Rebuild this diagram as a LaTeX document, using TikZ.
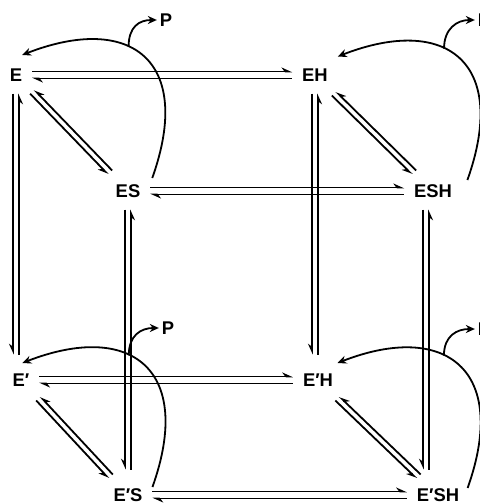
\documentclass[tikz,border=0pt]{standalone}
\usepackage{fontspec}
\setmainfont{Liberation Sans}
\usetikzlibrary{arrows.meta,calc}

\begin{document}
\begin{tikzpicture}[x=0.5pt, y=-0.5pt, line width=0.9pt,
    sp/.style={inner sep=0pt, outer xsep=5pt, outer ysep=6pt,
      text height=6.5pt, text depth=0pt, font=\fontsize{9.2}{11}\selectfont\bfseries},
    prod/.style={inner sep=0pt, outer sep=1.5pt, font=\fontsize{9.2}{11}\selectfont\bfseries},
    fwdh/.style={-{Stealth[left, length=4.5pt, width=4pt]}, transform canvas={yshift=1.75pt}},
    bwdh/.style={{Stealth[left, length=4.5pt, width=4pt]}-, transform canvas={yshift=-1.75pt}},
    fwdv/.style={-{Stealth[right, length=4.5pt, width=4pt]}, shorten >=3.5pt, transform canvas={xshift=-1.5pt}},
    bwdv/.style={{Stealth[right, length=4.5pt, width=4pt]}-, shorten >=3.5pt, transform canvas={xshift=1.5pt}},
    fwdd/.style={-{Stealth[right, length=4.5pt, width=4pt]}, transform canvas={shift={(-1pt,-1pt)}}},
    bwdd/.style={{Stealth[right, length=4.5pt, width=4pt]}-, transform canvas={shift={(1pt,1pt)}}},
    curv/.style={-{Stealth[length=4.5pt, width=4pt]}}]

    % Frame
    \path[use as bounding box] (0,0) rectangle (480,503);
    \clip (0,0) rectangle (480,503);

    % Enzyme species
    \node[sp] (E)    at (16,75)   {E};
    \node[sp] (EH)   at (315,75)  {EH};
    \node[sp] (ES)   at (128,191) {ES};
    \node[sp] (ESH)  at (433,191) {ESH};
    \node[sp] (Ep)   at (21,380)  {E′};
    \node[sp] (EpH)  at (318,380) {E′H};
    \node[sp] (EpS)  at (128,495) {E′S};
    \node[sp] (EpSH) at (438,495) {E′SH};

    % Products
    \node[prod] (P1) at (166,20)  {P};
    \node[prod] (P2) at (484,20)  {P};
    \node[prod] (P3) at (168,328) {P};
    \node[prod] (P4) at (484,329) {P};

    % Horizontal equilibria
    \foreach \a/\b in {E/EH, ES/ESH, Ep/EpH, EpS/EpSH} {
        \draw[fwdh] (\a) -- (\b);
        \draw[bwdh] (\a) -- (\b);
    }

    % Vertical equilibria
    \foreach \a/\b/\s in {E/Ep/0, ES/EpS/0, EH/EpH/0, ESH/EpSH/-7} {
        \draw[fwdv] ($(\a.south)+(\s,0)$) -- ($(\a.south |- \b.north)+(\s,0)$);
        \draw[bwdv] ($(\a.south)+(\s,0)$) -- ($(\a.south |- \b.north)+(\s,0)$);
    }

    % Diagonal equilibria
    \foreach \a/\b in {E/ES, EH/ESH, Ep/EpS, EpH/EpSH} {
        \draw[fwdd] (\a) -- (\b);
        \draw[bwdd] (\a) -- (\b);
    }

    % Catalytic steps
    \draw[curv] ([shift={(2,5.5)}]ES.north east) .. controls +(42,-118) and +(108,-42)
        .. ([shift={(-10,-1.5)}]E.north east) coordinate[pos=.59] (b1);
    \draw[curv] ([shift={(5.5,7.5)}]ESH.north east) .. controls +(42,-118) and +(108,-42)
        .. (EH.north east) coordinate[pos=.59] (b2);
    \draw[curv] ([shift={(0,10.5)}]EpS.north east) .. controls +(42,-118) and +(108,-42)
        .. ([shift={(-17,1.5)}]Ep.north east) coordinate[pos=.59] (b3);
    \draw[curv] ([shift={(-1.5,11.5)}]EpSH.north east) .. controls +(42,-118) and +(108,-42)
        .. ([shift={(-5.5,1.5)}]EpH.north east) coordinate[pos=.59] (b4);

    % Product release
    \draw[curv] (b1) .. controls +(0,-20) and +(-18,0) .. (P1.west);
    \draw[curv] (b2) .. controls +(0,-20) and +(-18,0) .. (P2.west);
    \draw[curv] (b3) .. controls +(0,-20) and +(-18,0) .. (P3.west);
    \draw[curv] (b4) .. controls +(0,-20) and +(-18,0) .. (P4.west);
\end{tikzpicture}
\end{document}
